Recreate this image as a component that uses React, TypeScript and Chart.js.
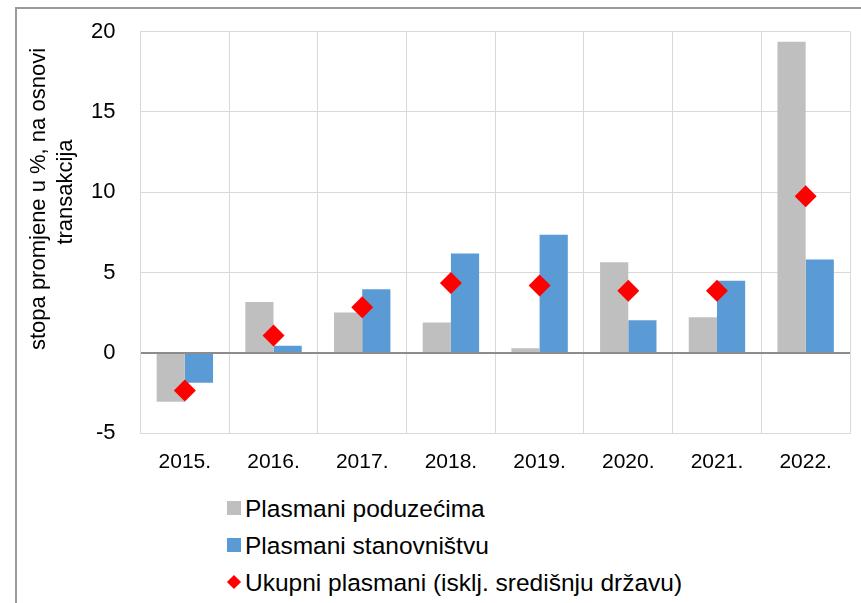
import React, { useEffect, useRef } from "react";
import { Chart, registerables } from "chart.js";

Chart.register(...registerables);

const categories = ["2015.", "2016.", "2017.", "2018.", "2019.", "2020.", "2021.", "2022."];
const poduzecima = [-3.03, 3.17, 2.52, 1.9, 0.29, 5.64, 2.23, 19.36];
const stanovnistvu = [-1.85, 0.46, 3.96, 6.19, 7.36, 2.04, 4.5, 5.81];
const ukupni = [-2.33, 1.09, 2.84, 4.36, 4.2, 3.87, 3.87, 9.75];
const seriesNames = [
  "Plasmani poduzećima",
  "Plasmani stanovništvu",
  "Ukupni plasmani (isklj. središnju državu)",
];
const yTitleLines = ["stopa promjene u %, na osnovi", "transakcija"];
const yMin = -5;
const yMax = 20;
const yStep = 5;

const GRAY = "#BFBFBF";
const BLUE = "#5B9BD5";
const RED = "#FF0000";
const FONT = '"Liberation Sans", Arial, sans-serif';

export default function App() {
  const canvasRef = useRef<HTMLCanvasElement | null>(null);

  useEffect(() => {
    if (!canvasRef.current) return;
    const chart = new Chart(canvasRef.current, {
      type: "bar",
      data: {
        labels: categories,
        datasets: [
          {
            type: "line",
            label: seriesNames[2],
            data: ukupni,
            showLine: false,
            pointStyle: "rectRot",
            pointRadius: 11,
            pointHoverRadius: 11,
            pointBackgroundColor: RED,
            pointBorderColor: RED,
            pointBorderWidth: 0,
            backgroundColor: RED,
            borderColor: RED,
            order: 0,
          } as any,
          {
            label: seriesNames[0],
            data: poduzecima,
            backgroundColor: GRAY,
            borderWidth: 0,
            order: 1,
          },
          {
            label: seriesNames[1],
            data: stanovnistvu,
            backgroundColor: BLUE,
            borderWidth: 0,
            order: 1,
          },
        ],
      },
      options: {
        responsive: false,
        animation: false,
        devicePixelRatio: 1,
        layout: { padding: { left: 0, top: 31.5, right: 8, bottom: 8 } },
        datasets: {
          bar: { categoryPercentage: 0.636, barPercentage: 1 },
        },
        plugins: {
          legend: { display: false },
          tooltip: { enabled: false },
          title: { display: false },
        },
        scales: {
          x: {
            grid: {
              offset: true,
              color: "#D9D9D9",
              lineWidth: 1,
              drawTicks: false,
            },
            border: { color: "#D9D9D9", width: 1 },
            ticks: {
              color: "#000",
              font: { family: FONT, size: 21 },
              padding: 16,
              maxRotation: 0,
            },
            afterFit: (scale: any) => {
              scale.height = 38.6;
              scale.paddingLeft = 0;
              scale.paddingRight = 0;
            },
          },
          y: {
            min: yMin,
            max: yMax,
            grid: {
              color: (ctx: any) => (ctx.tick && ctx.tick.value === 0 ? "#8C8C8C" : "#D9D9D9"),
              lineWidth: (ctx: any) => (ctx.tick && ctx.tick.value === 0 ? 2 : 1),
              drawTicks: false,
            },
            border: { color: "#D9D9D9", width: 1 },
            ticks: {
              stepSize: yStep,
              color: "#000",
              font: { family: FONT, size: 22 },
              padding: 25,
            },
            afterFit: (scale: any) => {
              scale.width = 140.5;
              scale.paddingTop = 0;
              scale.paddingBottom = 0;
            },
          },
        },
      },
    });
    return () => chart.destroy();
  }, []);

  const legendRows = [
    { name: seriesNames[0], color: GRAY, shape: "square", baseline: 517 },
    { name: seriesNames[1], color: BLUE, shape: "square", baseline: 554 },
    { name: seriesNames[2], color: RED, shape: "diamond", baseline: 591 },
  ];

  return (
    <div
      style={{
        position: "absolute",
        left: 0,
        top: 0,
        width: 861,
        height: 603,
        overflow: "hidden",
        background: "#fff",
        fontFamily: FONT,
      }}
    >
      <div
        style={{
          position: "absolute",
          left: 15,
          top: 7,
          width: 900,
          height: 700,
          borderLeft: "2px solid #9A9A9A",
          borderTop: "2px solid #9A9A9A",
          boxSizing: "border-box",
        }}
      />
      <canvas
        ref={canvasRef}
        width={861}
        height={480}
        style={{ position: "absolute", left: 0, top: 0, width: 861, height: 480 }}
      />
      <div
        style={{
          position: "absolute",
          left: 51.2 - 200,
          top: 199 - 27,
          width: 400,
          height: 54,
          transform: "rotate(-90deg)",
          transformOrigin: "50% 50%",
          fontSize: 22,
          lineHeight: "27px",
          color: "#000",
          textAlign: "center",
          whiteSpace: "nowrap",
        }}
      >
        <div>{yTitleLines[0]}</div>
        <div style={{ paddingLeft: 14 }}>{yTitleLines[1]}</div>
      </div>
      {legendRows.map((r, i) => (
        <div
          key={i}
          style={{
            position: "absolute",
            left: 227,
            top: r.baseline - 22.8,
            height: 29,
            lineHeight: "29px",
            fontSize: 24.5,
            color: "#000",
            whiteSpace: "nowrap",
          }}
        >
          {r.shape === "square" ? (
            <span
              style={{
                position: "absolute",
                left: 0,
                top: 7.3,
                width: 14,
                height: 14,
                background: r.color,
              }}
            />
          ) : (
            <span
              style={{
                position: "absolute",
                left: 2,
                top: 9.3,
                width: 10,
                height: 10,
                background: r.color,
                transform: "rotate(45deg)",
              }}
            />
          )}
          <span style={{ position: "absolute", left: 18, top: 0 }}>{r.name}</span>
        </div>
      ))}
    </div>
  );
}
